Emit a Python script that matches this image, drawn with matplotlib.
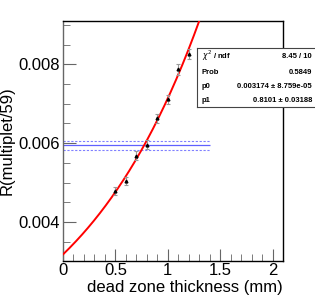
import numpy as np
import matplotlib
matplotlib.use("Agg")
import matplotlib.pyplot as plt
from matplotlib.ticker import MultipleLocator

plt.rcParams["font.family"] = ["Liberation Sans", "DejaVu Sans"]

# measured points
thickness = [0.5, 0.6, 0.7, 0.8, 0.9, 1.0, 1.1, 1.2]
ratio = [0.00478, 0.00503, 0.00568, 0.00596, 0.00663, 0.00711, 0.00787, 0.00826]
ratio_err = [0.00010, 0.00010, 0.00011, 0.00011, 0.00012, 0.00012, 0.00013, 0.00013]

# fit p0 * exp(p1 * x)
p0 = 0.003174
p1 = 0.8101

# reference value and band
ref_value = 0.00594
ref_err = 0.00012
ref_xmax = 1.4

stats_labels = ["$\\chi^2$ / ndf", "Prob", "p0", "p1"]
stats_values = ["8.45 / 10", "0.5849", "0.003174 \u00b1 8.759e-05", "0.8101 \u00b1 0.03188"]

fig = plt.figure(figsize=(3.15, 3.04), dpi=100)
ax = fig.add_axes([63 / 315, 43.5 / 304, 220 / 315, 239.5 / 304])

xf = np.linspace(0, 2.1, 300)
ax.plot(xf, p0 * np.exp(p1 * xf), color="red", lw=1.4, zorder=3)

ax.hlines(ref_value, 0, ref_xmax, color="#6060ff", lw=0.9, zorder=2)
ax.hlines([ref_value - ref_err, ref_value + ref_err], 0, ref_xmax,
          color="#8080ff", lw=0.8, linestyles=(0, (2, 1.5)), zorder=2)

ax.errorbar(thickness, ratio, yerr=ratio_err, fmt="^", ms=2, color="black",
            ecolor="#999999", elinewidth=0.8, capsize=1.5, capthick=0.8, zorder=4)

ax.set_xlim(0, 2.1)
ax.set_ylim(0.00302, 0.0091)
ax.xaxis.set_major_locator(MultipleLocator(0.5))
ax.xaxis.set_minor_locator(MultipleLocator(0.1))
ax.yaxis.set_major_locator(MultipleLocator(0.002))
ax.yaxis.set_minor_locator(MultipleLocator(0.0005))
ax.xaxis.set_major_formatter(plt.FuncFormatter(lambda v, p: "%g" % v))
ax.tick_params(which="both", direction="in", top=False, right=False,
               color="#666666", labelsize=12, pad=2)
ax.tick_params(which="major", length=9)
ax.tick_params(which="minor", length=5)
for s in ax.spines.values():
    s.set_linewidth(1.0)
ax.spines["left"].set_color("#666666")

ax.set_xlabel("dead zone thickness (mm)", fontsize=12, labelpad=1, loc="right")
ax.set_ylabel("R(multiplet/59)", fontsize=12, labelpad=3)

# stats box
box = fig.add_axes([197 / 315, (304 - 107.5) / 304, 125 / 315, 60 / 304])
box.set_xticks([])
box.set_yticks([])
box.set_xlim(0, 125)
box.set_ylim(0, 60)
for s in box.spines.values():
    s.set_linewidth(0.8)
    s.set_color("#444444")
rows_y = [51.5, 35.5, 20.5, 6.5]
for lab, val, y in zip(stats_labels, stats_values, rows_y):
    box.text(5, y, lab, fontsize=5.5, fontweight="bold", va="center", ha="left")
    box.text(115, y, val, fontsize=5.5, fontweight="bold", va="center", ha="right")

fig.savefig("out.png", dpi=100)
